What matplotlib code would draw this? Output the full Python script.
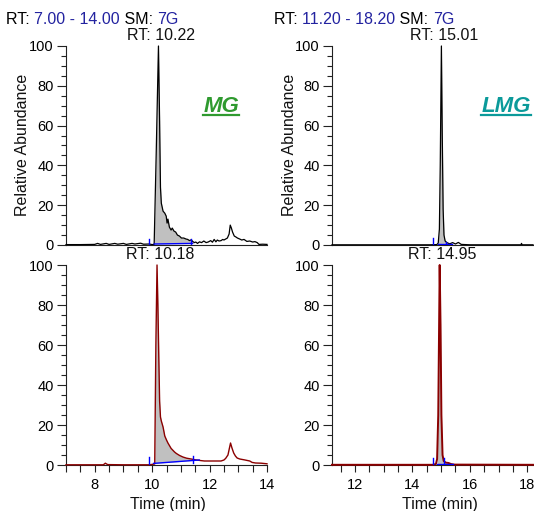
import numpy as np
import matplotlib
matplotlib.use('Agg')
import matplotlib.pyplot as plt
from matplotlib.ticker import MultipleLocator
from matplotlib.lines import Line2D

plt.rcParams['font.family'] = ['Liberation Sans', 'DejaVu Sans']

# ---- data ----
mg_t1 = [7.0, 7.5, 8.0, 8.1, 8.2, 8.4, 8.5, 8.7, 8.8, 9.0, 9.1, 9.3, 9.4, 9.6, 9.7, 9.9, 10.0,
         10.07, 10.14, 10.22, 10.26, 10.29, 10.32, 10.38, 10.44, 10.49, 10.52, 10.55, 10.6,
         10.66, 10.7, 10.76, 10.82, 10.88, 10.95, 11.02, 11.1, 11.18, 11.24, 11.3, 11.36,
         11.41, 11.47, 11.52, 11.58, 11.65, 11.72, 11.8, 11.88, 11.95, 12.04, 12.1, 12.16,
         12.22, 12.27, 12.33, 12.4, 12.46, 12.5, 12.56, 12.62, 12.68, 12.72, 12.76, 12.8,
         12.86, 12.92, 12.97, 13.05, 13.12, 13.2, 13.3, 13.4, 13.5, 13.58, 13.66, 13.72,
         13.85, 14.0]
mg_i1 = [0.2, 0.2, 0.3, 0.8, 0.3, 0.8, 0.3, 0.8, 0.4, 0.8, 0.3, 0.8, 0.5, 0.9, 0.4, 0.5, 0.2,
         0.3, 45, 100, 62, 29, 21, 17, 16, 14.5, 11, 13, 9,
         7.5, 8.5, 7, 6.5, 5, 4.5, 3.5, 3.5, 3, 2.8, 2.2, 2.6,
         1.8, 1.2, 1.5, 0.8, 1.6, 1.2, 2, 1.2, 1.5, 2.2, 1.4, 2.8,
         1.6, 2.5, 2, 2.2, 2.8, 2.5, 3, 3.5, 5.5, 10, 8.5, 6.5,
         4.5, 4, 3.5, 3, 2.5, 2.8, 1.8, 2, 1.5, 1.7, 1.2, 0.3,
         0.4, 0.3]

mg_t2 = [7.0, 8.0, 8.3, 8.37, 8.45, 9.0, 9.9, 10.09, 10.13, 10.17, 10.2, 10.23, 10.26, 10.29,
         10.32, 10.38, 10.44, 10.5, 10.55, 10.66, 10.78, 10.84, 10.95, 11.07, 11.2, 11.36,
         11.5, 11.7, 11.82, 12.0, 12.2, 12.4, 12.5, 12.56, 12.64, 12.7, 12.73, 12.78, 12.84,
         12.9, 12.96, 13.05, 13.2, 13.4, 13.48, 13.6, 13.8, 14.0]
mg_i2 = [0.1, 0.1, 0.1, 0.9, 0.2, 0.1, 0.1, 0.5, 60, 100, 80, 55, 32, 24,
         22, 19, 14.5, 12.5, 11, 8.3, 6.5, 5.8, 4.8, 4, 3.4, 3,
         2.6, 2.2, 2, 2, 2, 2, 2.5, 3.3, 5, 9, 11, 8.5, 6,
         4.5, 3.5, 3, 2.6, 2, 1.3, 1, 0.9, 0.6]

lmg_t1 = [11.2, 12.0, 13.0, 14.0, 14.6, 14.85, 14.9, 14.94, 14.97, 15.01, 15.04, 15.07, 15.1,
          15.14, 15.2, 15.3, 15.4, 15.5, 15.6, 15.7, 16.0, 17.0, 17.78, 17.8, 17.82, 18.2]
lmg_i1 = [0.1, 0.1, 0.1, 0.1, 0.1, 0.2, 1, 8, 40, 100, 55, 18, 5,
          2, 1.2, 0.6, 1.2, 0.5, 1.3, 0.3, 0.1, 0.1, 0.1, 0.8, 0.1, 0.1]

lmg_t2 = [11.2, 14.7, 14.82, 14.86, 14.9, 14.93, 14.95, 14.98, 15.01, 15.05, 15.09, 15.16,
          15.26, 15.34, 15.46, 18.2]
lmg_i2 = [0.1, 0.1, 0.5, 3, 25, 70, 100, 70, 25, 5, 2, 1.2,
          1, 0.5, 0.2, 0.1]

# integration: (start, start level, end, end level), blue marker ticks (time, bottom, top)
integ = {
    'mg1': ((10.07, 0.5, 11.41, 0.8), [(9.9, 0, 3), (11.36, 0, 3)]),
    'mg2': ((10.05, 0.8, 11.64, 2.5), [(9.89, 0, 3.8), (11.41, 1, 4.5)]),
    'lmg1': ((14.9, 0.3, 15.37, 0.3), [(14.73, 0, 3.5), (15.17, 0, 1.5)]),
    'lmg2': ((14.86, 0.3, 15.42, 0.3), [(14.71, 0, 3.5), (15.11, 0, 3.5)]),
}

ranges = {'mg': (7.0, 14.0), 'lmg': (11.2, 18.2)}
headers = {'mg': [('RT: ', 'k'), ('7.00 - 14.00', '#2323a0'), (' SM: ', 'k'), ('7G', '#2323a0')],
           'lmg': [('RT: ', 'k'), ('11.20 - 18.20', '#2323a0'), (' SM: ', 'k'), ('7G', '#2323a0')]}
rt_labels = {'mg1': 10.22, 'mg2': 10.18, 'lmg1': 15.01, 'lmg2': 14.95}

W, H = 534, 511
fig = plt.figure(figsize=(W / 100, H / 100), dpi=100)

def px_axes(x0, y0, x1, y1):
    return fig.add_axes([x0 / W, 1 - y1 / H, (x1 - x0) / W, (y1 - y0) / H])

axes = {
    'mg1': px_axes(66, 46, 267, 245),
    'mg2': px_axes(66, 265, 267, 465),
    'lmg1': px_axes(332, 46, 533, 245),
    'lmg2': px_axes(332, 265, 533, 465),
}
traces = {'mg1': (mg_t1, mg_i1, 'black', 0.9),
          'mg2': (mg_t2, mg_i2, '#8b0000', 1.0),
          'lmg1': (lmg_t1, lmg_i1, 'black', 0.9),
          'lmg2': (lmg_t2, lmg_i2, '#8b0000', 1.4)}

for key, ax in axes.items():
    t, y, col, lw = traces[key]
    t = np.array(t)
    y = np.array(y)
    (s, s0, e, e0), marks = integ[key]
    base = np.interp(t, [s, e], [s0, e0])
    m = (t >= s) & (t <= e)
    ax.fill_between(t, y, base, where=m, color='#c0c0c0', lw=0)
    ax.plot(t, y, color=col, lw=lw, clip_on=False, zorder=3)
    ax.plot([s, e], [s0, e0], color='#0000ff', lw=1.0, zorder=4)
    for mt, b0, b1 in marks:
        ax.plot([mt, mt], [b0, b1], color='#0000ff', lw=1.0, zorder=4)

    rng = ranges[key.rstrip('12')]
    ax.set_xlim(*rng)
    ax.set_ylim(0, 100)
    for sp in ('top', 'right'):
        ax.spines[sp].set_visible(False)
    for sp in ('left', 'bottom'):
        ax.spines[sp].set_color('#222222')
        ax.spines[sp].set_linewidth(0.8)
    ax.yaxis.set_major_locator(MultipleLocator(20))
    ax.yaxis.set_minor_locator(MultipleLocator(5))
    ax.tick_params(axis='y', which='major', direction='out', length=6.5, width=0.8,
                   labelsize=10.5, pad=2.5, color='#222222')
    ax.tick_params(axis='y', which='minor', direction='out', length=3.6, width=0.8, color='#222222')
    if key.endswith('1'):
        ax.tick_params(axis='x', which='both', bottom=False, labelbottom=False)
    else:
        ax.xaxis.set_major_locator(MultipleLocator(2))
        ax.xaxis.set_minor_locator(MultipleLocator(0.5))
        ax.tick_params(axis='x', which='both', direction='out', length=5, width=0.8,
                       labelsize=10.5, pad=4, color='#222222')

    ax.annotate(f'RT: {rt_labels[key]:.2f}', xy=(rt_labels[key], 100), xycoords='data',
                xytext=(2, 2), textcoords='offset points', ha='center', va='bottom',
                fontsize=11.5, color='#111111', annotation_clip=False)

fig.canvas.draw()
renderer = fig.canvas.get_renderer()

def chain(x, y, pieces):
    for s, c in pieces:
        txt = fig.text(x, y, s, color=c, fontsize=11.5, ha='left', va='center')
        bb = txt.get_window_extent(renderer)
        x += bb.width / W

chain(6 / W, 1 - 19 / H, headers['mg'])
chain(274 / W, 1 - 19 / H, headers['lmg'])

for xc, name, col in ((221, 'MG', '#2f9a2f'), (506, 'LMG', '#0b9a9a')):
    txt = fig.text(xc / W, 1 - 106 / H, name, color=col, fontsize=16, fontweight='bold',
                   fontstyle='italic', ha='center', va='center')
    bb = txt.get_window_extent(renderer)
    fig.add_artist(Line2D([bb.x0 / W, bb.x1 / W], [(bb.y0 + 1) / H, (bb.y0 + 1) / H],
                          transform=fig.transFigure, color=col, lw=1.6))

for xc in (23, 289):
    fig.text(xc / W, 1 - 145 / H, 'Relative Abundance', rotation=90, fontsize=11.5,
             ha='center', va='center', color='#111111')
for xc in (168, 440):
    fig.text(xc / W, 1 - 504 / H, 'Time (min)', fontsize=11.5, ha='center', va='center',
             color='#111111')

fig.savefig('out.png', dpi=100)
